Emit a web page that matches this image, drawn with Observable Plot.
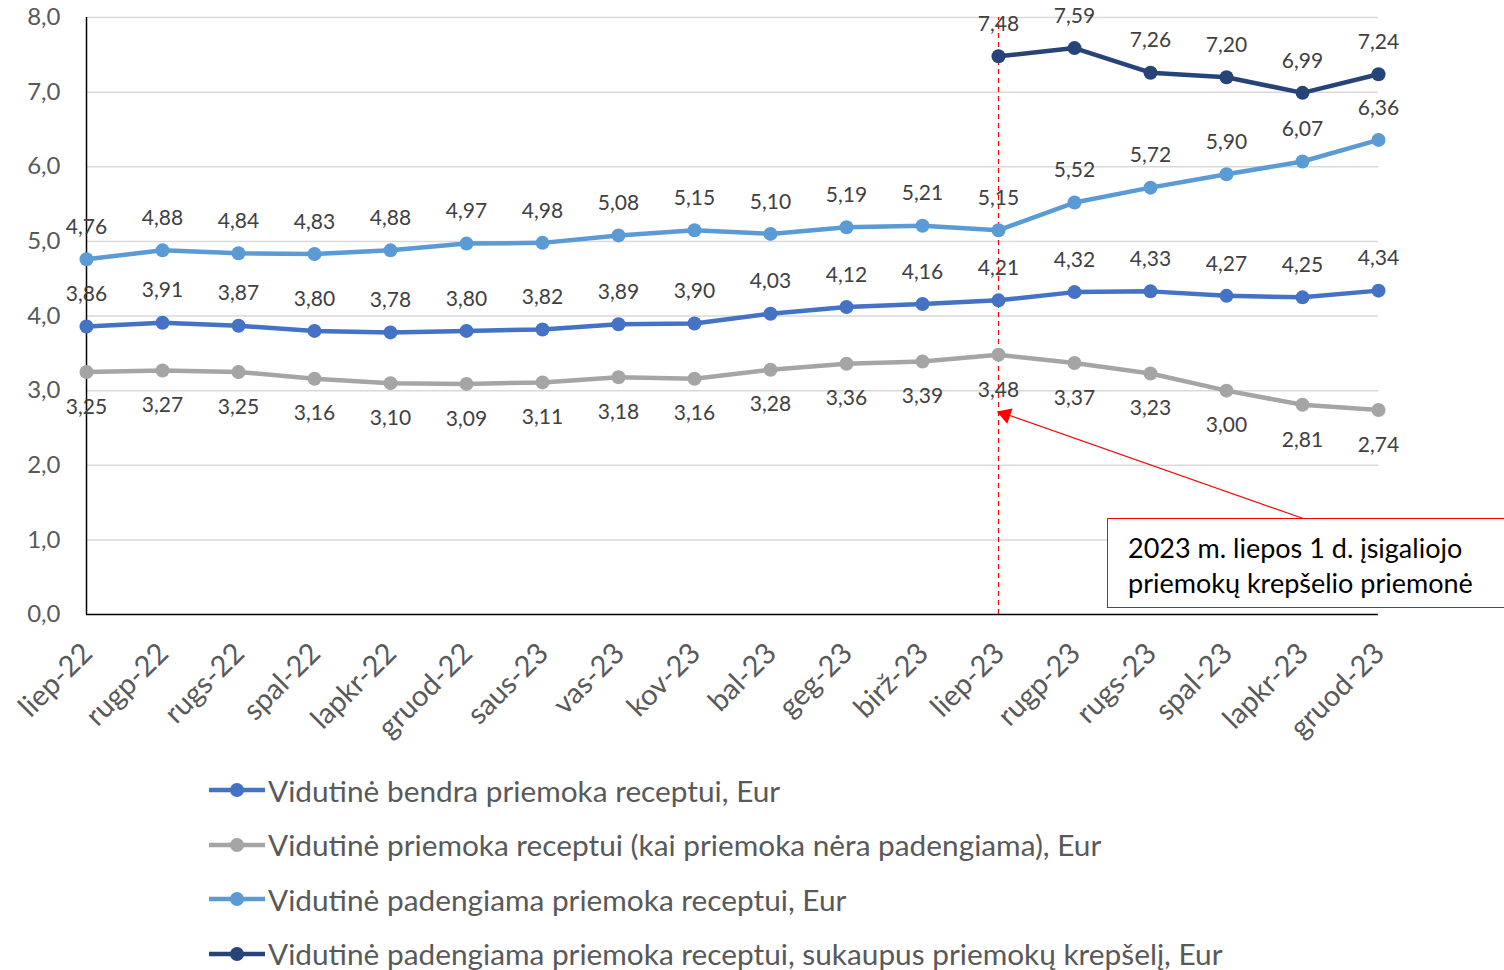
<!DOCTYPE html>
<html>
<head>
<meta charset="utf-8">
<script src="https://cdn.jsdelivr.net/npm/d3@7"></script>
<script src="https://cdn.jsdelivr.net/npm/@observablehq/plot@0.6"></script>
<style>
  html, body { margin: 0; padding: 0; background: #fff; }
  body { width: 1504px; height: 970px; position: relative; overflow: hidden; font-family: Lato, "Open Sans", sans-serif; }
  #chart { position: absolute; left: 0; top: 0; }
  #note { position: absolute; left: 1107px; top: 518px; width: 420px; height: 90px; border: 1.5px solid #FF0000; background: #fff; box-sizing: border-box; padding: 11px 0 0 20px; font-size: 27px; line-height: 35px; color: #000; }
  #legend { position: absolute; left: 208px; top: 763px; }
  .row { height: 54.5px; display: flex; align-items: center; font-size: 29.8px; color: #595959; white-space: nowrap; }
  .row svg { margin-right: 2px; }
</style>
</head>
<body>
<div id="chart"></div>
<div id="note">2023 m. liepos 1 d. įsigaliojo<br>priemokų krepšelio priemonė</div>
<div id="legend"></div>
<script>
const months = ["liep-22","rugp-22","rugs-22","spal-22","lapkr-22","gruod-22","saus-23","vas-23","kov-23","bal-23","geg-23","birž-23","liep-23","rugp-23","rugs-23","spal-23","lapkr-23","gruod-23"];
const bendra = [3.86,3.91,3.87,3.80,3.78,3.80,3.82,3.89,3.90,4.03,4.12,4.16,4.21,4.32,4.33,4.27,4.25,4.34];
const nepadengiama = [3.25,3.27,3.25,3.16,3.10,3.09,3.11,3.18,3.16,3.28,3.36,3.39,3.48,3.37,3.23,3.00,2.81,2.74];
const padengiama = [4.76,4.88,4.84,4.83,4.88,4.97,4.98,5.08,5.15,5.10,5.19,5.21,5.15,5.52,5.72,5.90,6.07,6.36];
const krepselis = [null,null,null,null,null,null,null,null,null,null,null,null,7.48,7.59,7.26,7.20,6.99,7.24];
const seriesNames = [
  "Vidutinė bendra priemoka receptui, Eur",
  "Vidutinė priemoka receptui (kai priemoka nėra padengiama), Eur",
  "Vidutinė padengiama priemoka receptui, Eur",
  "Vidutinė padengiama priemoka receptui, sukaupus priemokų krepšelį, Eur"
];
const seriesColors = ["#4472C4", "#A5A5A5", "#5B9BD5", "#264478"];
const yTicks = [0,1,2,3,4,5,6,7,8];
const eventMonth = "liep-23";
const arrowFrom = {month: "lapkr-23", value: 1.29};
const arrowTo = {month: "liep-23", value: 2.72};

const allValues = [bendra, nepadengiama, padengiama, krepselis];
const rows = [];
allValues.forEach((vals, s) => {
  months.forEach((m, i) => {
    if (vals[i] != null) rows.push({month: m, value: vals[i], series: seriesNames[s], idx: s});
  });
});
const fmt = v => v.toFixed(2).replace(".", ",");
const fmtAxis = v => v.toFixed(1).replace(".", ",");
const above = rows.filter(d => d.idx !== 1);
const below = rows.filter(d => d.idx === 1);

const chart = Plot.plot({
  width: 1504,
  height: 750,
  marginTop: 17,
  marginBottom: 136,
  marginLeft: 86,
  marginRight: 126,
  style: {fontFamily: "Lato, 'Open Sans', sans-serif", background: "#fff"},
  x: {type: "point", domain: months, padding: 0, label: null},
  y: {domain: [0, 8], label: null},
  color: {domain: seriesNames, range: seriesColors},
  marks: [
    Plot.gridY(yTicks.filter(t => t > 0), {stroke: "#D9D9D9", strokeOpacity: 1, strokeWidth: 1.5}),
    Plot.axisY(yTicks, {tickSize: 0, tickPadding: 26, fontSize: 24, fill: "#595959", tickFormat: fmtAxis, label: null}),
    Plot.axisX({tickSize: 0, tickPadding: 34, tickRotate: -45, fontSize: 29, fill: "#595959", label: null, dx: 1}),
    Plot.ruleY([0], {stroke: "#000", strokeWidth: 1.5}),
    Plot.ruleX([months[0]], {stroke: "#000", strokeWidth: 1.5}),
    Plot.ruleX([eventMonth], {y1: 0, y2: 8, stroke: "#FF0000", strokeWidth: 1.2, strokeDasharray: "5,4"}),
    Plot.arrow([0], {x1: () => arrowFrom.month, y1: () => arrowFrom.value, x2: () => arrowTo.month, y2: () => arrowTo.value, stroke: "#FF0000", strokeWidth: 1.2, headLength: 0}),
    Plot.dot([0], {x: () => arrowTo.month, y: () => arrowTo.value, symbol: "triangle", r: 6, fill: "#FF0000", stroke: "none", rotate: -71, dx: 7, dy: 3}),
    Plot.line(rows, {x: "month", y: "value", z: "series", stroke: "series", strokeWidth: 4.5}),
    Plot.dot(rows, {x: "month", y: "value", fill: "series", r: 7}),
    Plot.text(above, {x: "month", y: "value", text: d => fmt(d.value), dy: -32, fontSize: 21, fill: "#404040"}),
    Plot.text(below, {x: "month", y: "value", text: d => fmt(d.value), dy: 35, fontSize: 21, fill: "#404040"})
  ]
});
document.getElementById("chart").appendChild(chart);

const legend = document.getElementById("legend");
seriesNames.forEach((name, i) => {
  const row = document.createElement("div");
  row.className = "row";
  row.innerHTML = `<svg width="58" height="16"><line x1="1" y1="8" x2="57" y2="8" stroke="${seriesColors[i]}" stroke-width="4.5"/><circle cx="29" cy="8" r="7" fill="${seriesColors[i]}"/></svg><span>${name}</span>`;
  legend.appendChild(row);
});
</script>
</body>
</html>
